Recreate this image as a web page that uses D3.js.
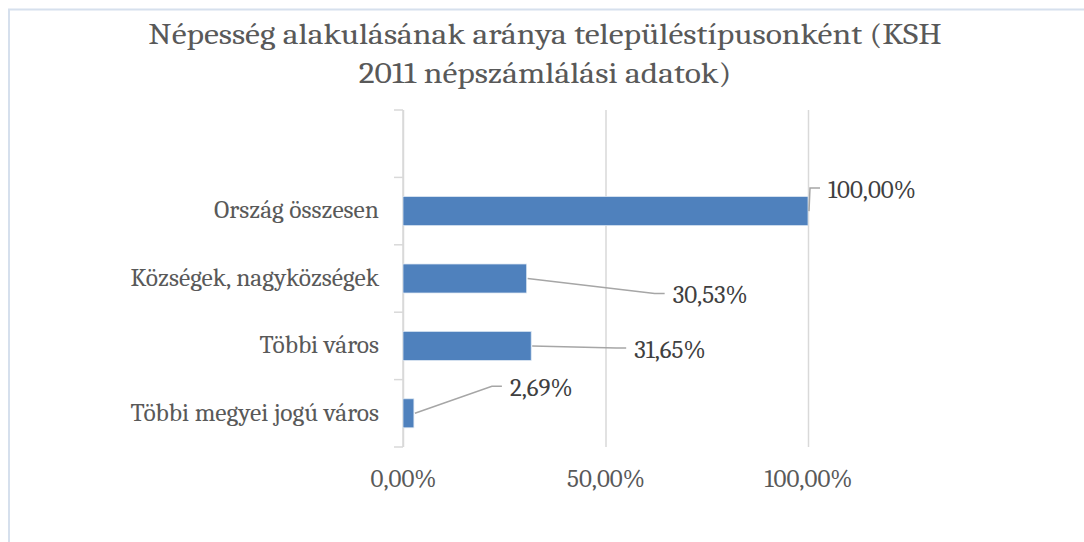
<!DOCTYPE html>
<html>
<head>
<meta charset="utf-8">
<script src="https://d3js.org/d3.v7.min.js"></script>
<style>
  body { margin: 0; background: #fff; }
  text { font-family: Cambria, "Liberation Serif", serif; }
</style>
</head>
<body>
<div id="visContainer"></div>
<script>
'use strict';

// data (top band has no category)
var categories = ['', 'Ország összesen', 'Községek, nagyközségek', 'Többi város', 'Többi megyei jogú város'];
var values = [null, 1.00, 0.3053, 0.3165, 0.0269];
var labels = ['', '100,00%', '30,53%', '31,65%', '2,69%'];
var xTicks = [0, 0.5, 1];
var xTickLabels = ['0,00%', '50,00%', '100,00%'];
var titleLines = ['Népesség alakulásának aránya településtípusonként (KSH', '2011 népszámlálási adatok)'];

// label offsets from the bar end (moved by hand in the original)
var labelOffsets = [null, [20, -21.5], [146, 16.5], [103, 3.5], [96, -25.5]];

var width = 1084, height = 542;
var plotLeft = 403, plotRight = 808, plotTop = 110, plotBottom = 447;

var svg = d3.select('#visContainer')
    .append('svg')
    .attr('width', width)
    .attr('height', height);

// chart frame
svg.append('rect')
    .attr('x', 9).attr('y', 9.5)
    .attr('width', 1200).attr('height', 700)
    .attr('fill', '#fff')
    .attr('stroke', '#d6e0ed')
    .attr('stroke-width', 2);

// the fallback font is a bit narrower than the original, so stretch a little
function stretch(k) {
    return function(sel) {
        sel.each(function() {
            var w = this.getComputedTextLength();
            if (w > 0) d3.select(this).attr('textLength', w * k).attr('lengthAdjust', 'spacingAndGlyphs');
        });
    };
}

// title
svg.selectAll('.title')
    .data(titleLines)
    .enter()
    .append('text')
    .attr('class', 'title')
    .attr('x', 545)
    .attr('y', function(d, i) { return 44 + i * 38.5; })
    .attr('text-anchor', 'middle')
    .style('font-size', '30px')
    .style('fill', '#595959')
    .text(function(d) { return d; })
    .call(stretch(1.12));

var x = d3.scaleLinear().domain([0, 1]).range([plotLeft, plotRight]);
var y = d3.scaleBand().domain(categories).range([plotTop, plotBottom]).paddingInner(0.57).paddingOuter(0.285);
var yb = d3.scaleBand().domain(categories).range([plotTop, plotBottom]);

// vertical gridlines + tick labels
var xAxis = svg.append('g')
    .attr('transform', 'translate(0,' + plotBottom + ')')
    .call(d3.axisBottom(x).tickValues(xTicks)
        .tickFormat(function(d, i) { return xTickLabels[i]; })
        .tickSize(-(plotBottom - plotTop)).tickPadding(23));
xAxis.select('.domain').remove();
xAxis.selectAll('line').attr('stroke', '#d9d9d9').attr('stroke-width', 1.5);
xAxis.attr('font-family', null).attr('font-size', null);
xAxis.selectAll('text')
    .style('font-size', '24px')
    .style('fill', '#595959')
    .call(stretch(1.04));

// category axis with ticks at band edges
var yAxis = svg.append('g').attr('transform', 'translate(' + plotLeft + ',0)');
yAxis.append('line')
    .attr('y1', plotTop).attr('y2', plotBottom)
    .attr('stroke', '#d9d9d9').attr('stroke-width', 1.5);
yAxis.selectAll('.tick')
    .data(categories.concat(['end']))
    .enter()
    .append('line')
    .attr('x1', -9).attr('x2', 0)
    .attr('y1', function(d) { return d === 'end' ? plotBottom : yb(d); })
    .attr('y2', function(d) { return d === 'end' ? plotBottom : yb(d); })
    .attr('stroke', '#d9d9d9').attr('stroke-width', 1.5);

yAxis.selectAll('.cat')
    .data(categories)
    .enter()
    .append('text')
    .attr('class', 'cat')
    .attr('x', -24)
    .attr('y', function(d) { return yb(d) + yb.bandwidth() / 2; })
    .attr('dy', '0.3em')
    .attr('text-anchor', 'end')
    .style('font-size', '24px')
    .style('fill', '#595959')
    .text(function(d) { return d; })
    .call(stretch(1.06));

var rows = categories.map(function(c, i) {
    return { cat: c, value: values[i], label: labels[i], off: labelOffsets[i] };
}).filter(function(d) { return d.value != null; });

// bars
svg.selectAll('.bar')
    .data(rows)
    .enter()
    .append('rect')
    .attr('class', 'bar')
    .attr('x', x(0))
    .attr('y', function(d) { return y(d.cat); })
    .attr('width', function(d) { return x(d.value) - x(0); })
    .attr('height', y.bandwidth())
    .attr('fill', '#4f81bd')
    .attr('stroke', '#dce6f2')
    .attr('stroke-width', 0.75);

// leader lines
svg.selectAll('.leader')
    .data(rows)
    .enter()
    .append('polyline')
    .attr('class', 'leader')
    .attr('points', function(d) {
        var x0 = x(d.value), y0 = y(d.cat) + y.bandwidth() / 2;
        var lx = x0 + d.off[0], ly = y0 + d.off[1] - 1.5;
        return [[x0 + 1, y0], [lx - 18, ly], [lx - 8, ly]].join(' ');
    })
    .attr('fill', 'none')
    .attr('stroke', '#a6a6a6')
    .attr('stroke-width', 1.5);

// data labels
svg.selectAll('.dlabel')
    .data(rows)
    .enter()
    .append('text')
    .attr('class', 'dlabel')
    .attr('x', function(d) { return x(d.value) + d.off[0]; })
    .attr('y', function(d) { return y(d.cat) + y.bandwidth() / 2 + d.off[1]; })
    .attr('dy', '0.35em')
    .style('font-size', '24px')
    .style('fill', '#404040')
    .text(function(d) { return d.label; })
    .call(stretch(1.04));
</script>
</body>
</html>
